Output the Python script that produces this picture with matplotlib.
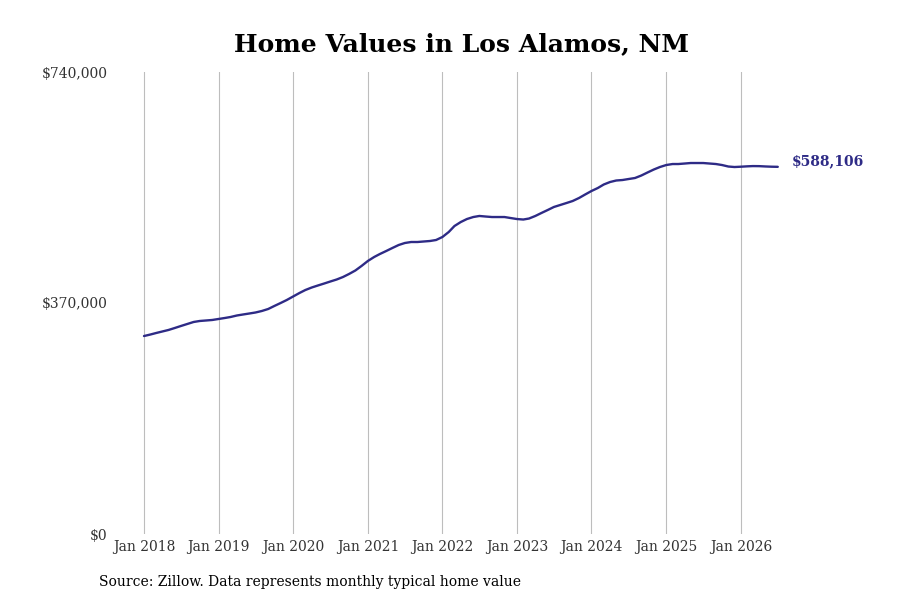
import datetime as dt
import matplotlib; matplotlib.use("Agg")
import matplotlib.pyplot as plt
import matplotlib.dates as mdates

plt.rcParams["font.family"] = "DejaVu Serif"

# monthly typical home value, Jan 2018 .. Jul 2026
VALUES = [
    317100, 319500, 321900, 324400, 326800, 330000, 333200, 336400, 339600, 341200, 342000, 342800,  # 2018
    344400, 346000, 347600, 350000, 351600, 353200, 354800, 357200, 360400, 365200, 370000, 374800,  # 2019
    380400, 386000, 390800, 394800, 398000, 401200, 404400, 407600, 411600, 416500, 422100, 429300,  # 2020
    437300, 443700, 448500, 453300, 458100, 462900, 466100, 467700, 467700, 468500, 469300, 470900,  # 2021
    475700, 483700, 493300, 499700, 504500, 507700, 509400, 508500, 507700, 507700, 507700, 506100,  # 2022
    504500, 503700, 505300, 509400, 514200, 519000, 523800, 527000, 530200, 533400, 538200, 543800,  # 2023
    549400, 554200, 559800, 563800, 566200, 567000, 568600, 570200, 574200, 579000, 583800, 587800,  # 2024
    591000, 592600, 592600, 593400, 594200, 594200, 594200, 593400, 592600, 591000, 588600, 587800,  # 2025
    588300, 588900, 589300, 589200, 588700, 588300, 588106,                                          # 2026
]
DATES = [dt.date(2018 + i // 12, i % 12 + 1, 1) for i in range(len(VALUES))]
YTICKS = [0, 370000, 740000]
YLABELS = ["$0", "$370,000", "$740,000"]
XTICKS = [dt.date(y, 1, 1) for y in range(2018, 2027)]
LINE = "#2e2b86"

fig = plt.figure(figsize=(9, 6), dpi=100)
ax = fig.add_axes([112/900, 66/600, (811-112)/900, 462/600])
ax.plot(DATES, VALUES, color=LINE, lw=1.7, solid_capstyle="round", zorder=3)

x0 = mdates.date2num(dt.date(2018, 1, 1)); pxd = 74.6/365.25
ax.set_xlim(x0 - 32/pxd, x0 + (811-144)/pxd)
ax.set_ylim(0, 740000)
ax.set_xticks(XTICKS, [d.strftime("Jan %Y") for d in XTICKS])
ax.set_yticks(YTICKS, YLABELS)
ax.tick_params(length=0, labelsize=10, colors="#333333", pad=4)
ax.tick_params(axis="y", pad=3)
ax.grid(axis="x", color="#bdbdbd", lw=0.8)
for s in ax.spines.values(): s.set_visible(False)

ax.annotate(f"${VALUES[-1]:,}", (DATES[-1], VALUES[-1]), xytext=(10, 4), textcoords="offset points",
            color=LINE, fontsize=10, fontweight="bold", va="center", annotation_clip=False)
fig.text(461/900, 1 - 44/600, "Home Values in Los Alamos, NM", ha="center", va="center",
         fontsize=18, fontweight="bold")
fig.text(99/900, 1 - 582/600, "Source: Zillow. Data represents monthly typical home value",
         ha="left", va="center", fontsize=10)
fig.savefig("out.png", dpi=100)
